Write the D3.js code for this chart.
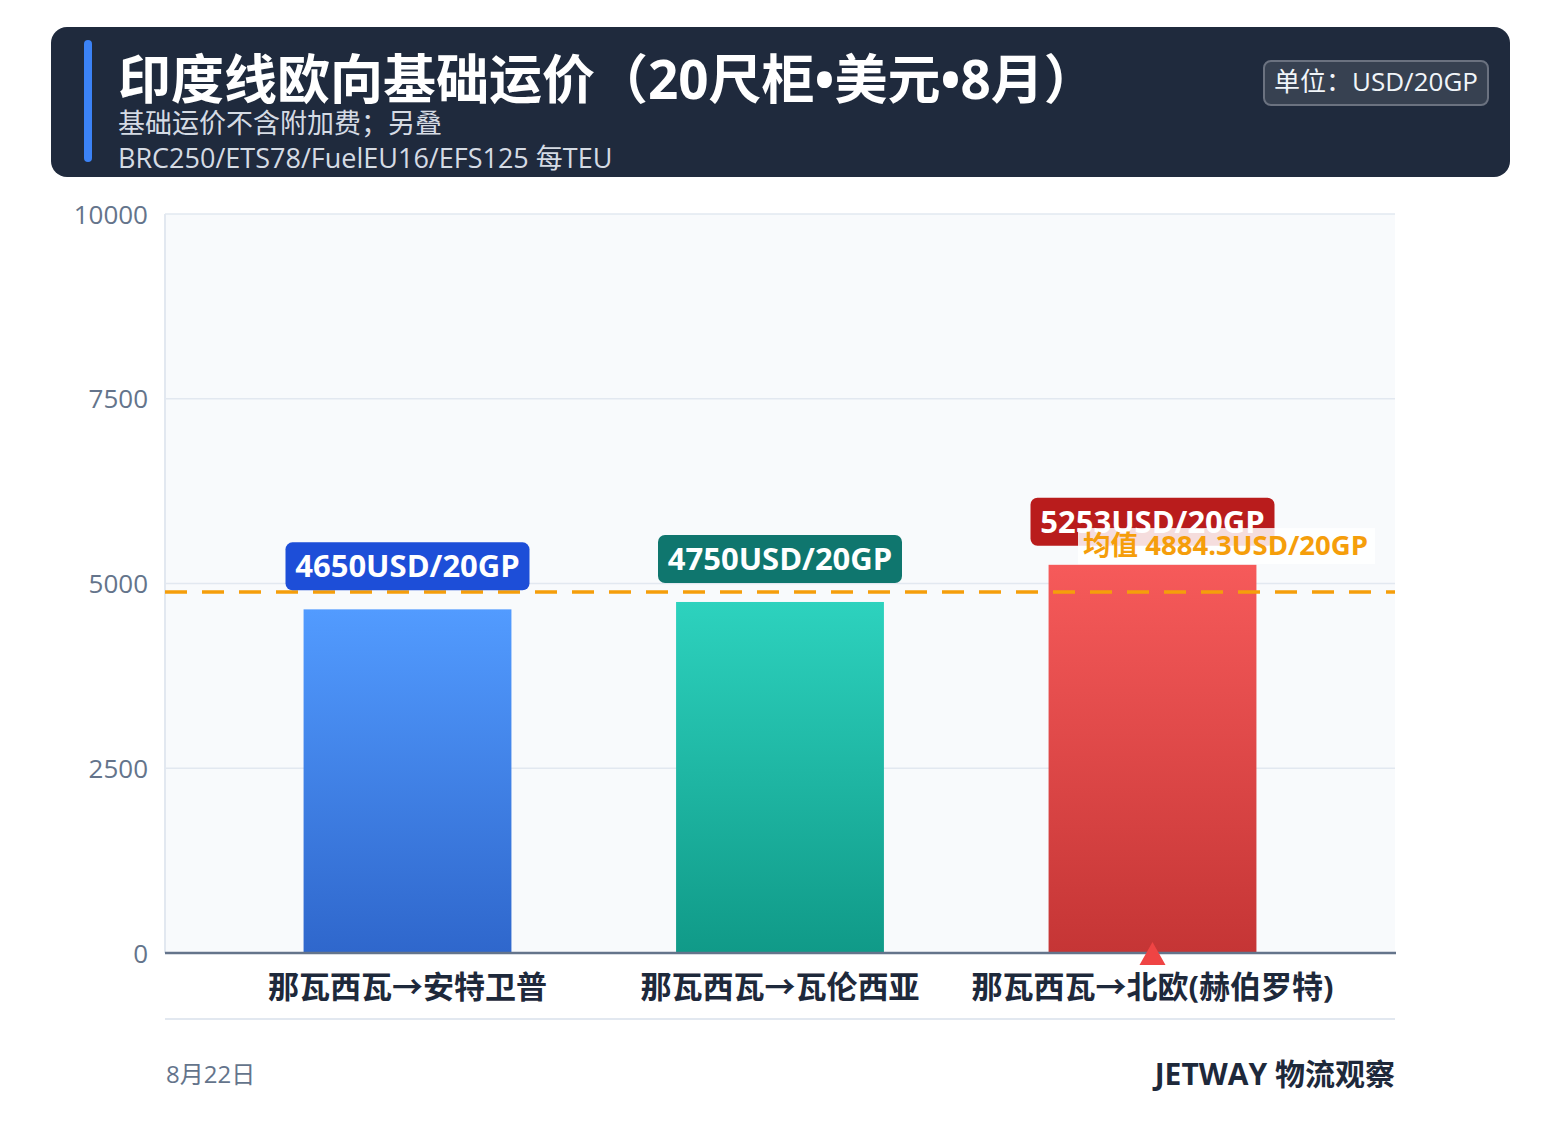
<!DOCTYPE html>
<html><head><meta charset="utf-8">
<script src="https://cdn.jsdelivr.net/npm/d3@7/dist/d3.min.js"></script>
<style>
body{margin:0;background:#fff;}
text{font-family:"Open Sans","Noto Sans CJK SC",sans-serif;}
</style></head>
<body><svg id="c" width="1561" height="1145"></svg>
<script>
const categories = ["那瓦西瓦→安特卫普","那瓦西瓦→瓦伦西亚","那瓦西瓦→北欧(赫伯罗特)"];
const values = [4650, 4750, 5253];
const meanValue = 4884.3;
const yTicks = [0, 2500, 5000, 7500, 10000];
const titleText = "印度线欧向基础运价（20尺柜•美元•8月）";
const subLines = ["基础运价不含附加费；另叠", "BRC250/ETS78/FuelEU16/EFS125 每TEU"];
const unitText = "单位：USD/20GP";
const dateText = "8月22日";
const brandText = "JETWAY 物流观察";

const barTop = ["#529bff","#2dd2be","#f65a5a"];
const barBot = ["#2f67cc","#109a88","#c53535"];
const labelFill = ["#1d4ed8","#0f766e","#b91c1c"];

const svg = d3.select("#c");
const defs = svg.append("defs");
barTop.forEach((c,i)=>{
  const g = defs.append("linearGradient").attr("id","g"+i).attr("x1",0).attr("y1",0).attr("x2",0).attr("y2",1);
  g.append("stop").attr("offset","0%").attr("stop-color",c);
  g.append("stop").attr("offset","100%").attr("stop-color",barBot[i]);
});

// header
svg.append("rect").attr("x",51).attr("y",27).attr("width",1459).attr("height",150).attr("rx",16).attr("fill","#1f2a3d");
svg.append("rect").attr("x",84).attr("y",40).attr("width",8).attr("height",122).attr("rx",4).attr("fill","#3b82f6");
svg.append("text").attr("x",118).attr("y",99).attr("fill","#fff").attr("font-size",53).attr("font-weight",700).text(titleText);
subLines.forEach((t,i)=>svg.append("text").attr("x",118).attr("y",133+i*35).attr("fill","#d5dbe4").attr("font-size",27).text(t));
svg.append("rect").attr("x",1264).attr("y",61).attr("width",224).attr("height",44).attr("rx",7).attr("fill","#374151").attr("stroke","#6b7280").attr("stroke-width",2);
svg.append("text").attr("x",1376).attr("y",91).attr("text-anchor","middle").attr("fill","#f1f5f9").attr("font-size",26).text(unitText);

// plot
const L=165,R=1395,T=214,B=953;
const x = d3.scaleBand().domain(categories).range([L,R]).paddingInner(0.442).paddingOuter(0.372);
const y = d3.scaleLinear().domain([0,10000]).range([B,T]);

svg.append("rect").attr("x",L).attr("y",T).attr("width",R-L).attr("height",B-T).attr("fill","#f8fafc");
svg.append("line").attr("x1",L).attr("x2",L).attr("y1",T).attr("y2",B).attr("stroke","#e2e8f0").attr("stroke-width",2);
svg.selectAll(".grid").data(yTicks.filter(d=>d>0)).join("line")
  .attr("x1",L).attr("x2",R).attr("y1",d=>y(d)).attr("y2",d=>y(d)).attr("stroke","#e2e8f0").attr("stroke-width",1.5);

const yAxis = svg.append("g").attr("transform",`translate(${L},0)`)
  .call(d3.axisLeft(y).tickValues(yTicks).tickFormat(d3.format("d")).tickSize(0).tickPadding(17));
yAxis.select(".domain").remove();
yAxis.selectAll("text").attr("font-size",26).attr("fill","#64748b").attr("font-family","'Open Sans','Noto Sans',sans-serif").attr("dy","0.35em");

// bars
svg.selectAll(".bar").data(values).join("rect")
  .attr("x",(d,i)=>x(categories[i])).attr("width",x.bandwidth())
  .attr("y",d=>y(d)).attr("height",d=>B-y(d)).attr("fill",(d,i)=>`url(#g${i})`);

// baseline
svg.append("line").attr("x1",L).attr("x2",R+1).attr("y1",B).attr("y2",B).attr("stroke","#64748b").attr("stroke-width",2.5);

// mean line
svg.append("line").attr("x1",L).attr("x2",R).attr("y1",y(meanValue)).attr("y2",y(meanValue))
  .attr("stroke","#f59e0b").attr("stroke-width",3.5).attr("stroke-dasharray","22,15");

// value labels
values.forEach((v,i)=>{
  const cx = x(categories[i]) + x.bandwidth()/2;
  const by = y(v) - 19;
  const g = svg.append("g");
  g.append("rect").attr("x",cx-122).attr("y",by-48).attr("width",244).attr("height",48).attr("rx",7).attr("fill",labelFill[i]);
  g.append("text").attr("x",cx).attr("y",by-13).attr("text-anchor","middle").attr("fill","#fff").attr("font-size",31).attr("font-weight",700).text(v+"USD/20GP");
});

// mean label
const my = y(meanValue);
svg.append("rect").attr("x",1078).attr("y",my-64).attr("width",297).attr("height",36).attr("fill","#fff").attr("fill-opacity",0.85);
svg.append("text").attr("x",1368).attr("y",my-37).attr("text-anchor","end").attr("fill","#f59e0b").attr("font-size",27.5).attr("font-weight",700).text("均值 "+meanValue+"USD/20GP");

// max marker
const mi = values.indexOf(d3.max(values));
const mx = x(categories[mi]) + x.bandwidth()/2;
svg.append("path").attr("d",`M${mx},${B-11}L${mx+13},${B+12}L${mx-13},${B+12}Z`).attr("fill","#ef4444");

// x labels
categories.forEach(c=>{
  svg.append("text").attr("x",x(c)+x.bandwidth()/2).attr("y",998).attr("text-anchor","middle")
    .attr("fill","#1e293b").attr("font-size",31).attr("font-weight",700).text(c);
});
svg.append("line").attr("x1",L).attr("x2",R).attr("y1",1019).attr("y2",1019).attr("stroke","#e2e8f0").attr("stroke-width",2);

// footer
svg.append("text").attr("x",166).attr("y",1083).attr("fill","#64748b").attr("font-size",24).text(dateText);
svg.append("text").attr("x",1395).attr("y",1085).attr("text-anchor","end").attr("fill","#1e293b").attr("font-size",30).attr("font-weight",700).text(brandText);
</script></body></html>
